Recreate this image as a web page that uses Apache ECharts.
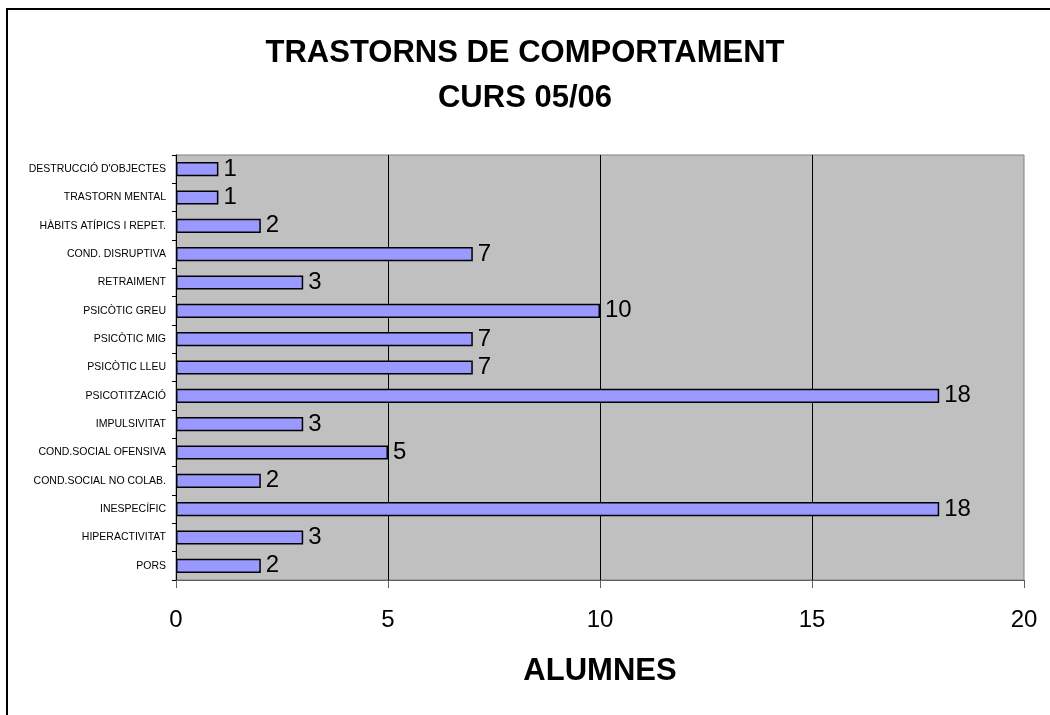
<!DOCTYPE html>
<html>
<head>
<meta charset="utf-8">
<script src="https://cdn.jsdelivr.net/npm/echarts@6/dist/echarts.min.js"></script>
<style>html,body{margin:0;padding:0;background:#fff;}#c{width:1050px;height:715px;}</style>
</head>
<body>
<div id="c"></div>
<script>
const categories = ["PORS","HIPERACTIVITAT","INESPECÍFIC","COND.SOCIAL NO COLAB.","COND.SOCIAL OFENSIVA","IMPULSIVITAT","PSICOTITZACIÓ","PSICÒTIC LLEU","PSICÒTIC MIG","PSICÒTIC GREU","RETRAIMENT","COND. DISRUPTIVA","HÀBITS ATÍPICS I REPET.","TRASTORN MENTAL","DESTRUCCIÓ D'OBJECTES"];
const alumnes = [2,3,18,2,5,3,18,7,7,10,3,7,2,1,1];
const titleLine1 = "TRASTORNS DE COMPORTAMENT";
const titleLine2 = "CURS 05/06";
const xAxisName = "ALUMNES";

const FONT = 'Liberation Sans, Arial, sans-serif';
const titleStyle = {fontSize: 31, fontWeight: 'bold', color: '#000', fontFamily: FONT};
const chart = echarts.init(document.getElementById('c'));
chart.setOption({
  animation: false,
  backgroundColor: '#fff',
  textStyle: {fontFamily: FONT},
  title: [
    {text: titleLine1, left: 'center', top: 38, padding: 0, textStyle: titleStyle},
    {text: titleLine2, left: 'center', top: 83, padding: 0, textStyle: titleStyle}
  ],
  graphic: [{
    type: 'rect', silent: true, z: -1,
    shape: {x: 7, y: 9, width: 1200, height: 900},
    style: {fill: 'none', stroke: '#000', lineWidth: 2}
  }],
  grid: {left: 176, right: 26, top: 155, bottom: 135, show: true, backgroundColor: '#c0c0c0', borderColor: '#808080', borderWidth: 1},
  xAxis: {
    type: 'value', min: 0, max: 20, interval: 5,
    name: xAxisName, nameLocation: 'middle', nameGap: 76,
    nameTextStyle: {fontSize: 31, fontWeight: 'bold', color: '#000'},
    axisLine: {show: true, lineStyle: {color: '#606060'}},
    axisTick: {show: true, length: 8, lineStyle: {color: '#606060'}},
    axisLabel: {fontSize: 24, color: '#000', margin: 28},
    splitLine: {show: true, showMinLine: false, showMaxLine: false, lineStyle: {color: '#000', width: 1}}
  },
  yAxis: {
    type: 'category', data: categories,
    axisLine: {show: true, lineStyle: {color: '#000'}},
    axisTick: {show: true, length: 4, lineStyle: {color: '#000'}},
    axisLabel: {fontSize: 10.5, color: '#000', margin: 10},
    splitLine: {show: false}
  },
  series: [{
    type: 'bar', data: alumnes, barWidth: '50%',
    itemStyle: {color: '#9999ff', borderColor: '#000', borderWidth: 1.5},
    label: {show: true, position: 'right', distance: 5, fontSize: 24, color: '#000'}
  }]
});
</script>
</body>
</html>
